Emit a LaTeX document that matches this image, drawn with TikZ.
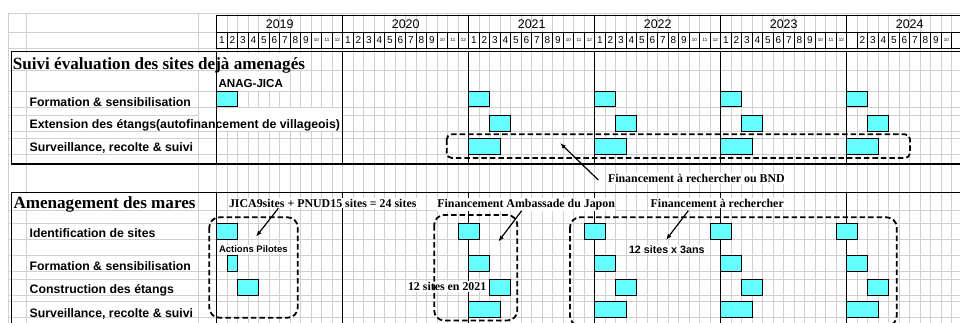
\documentclass[tikz,border=0pt]{standalone}
\usepackage{fontspec}
\setmainfont{Liberation Serif}
\newfontfamily\gothic{Liberation Sans}
\usetikzlibrary{arrows.meta}
\definecolor{barcyan}{RGB}{102,255,255}
\definecolor{gridgray}{RGB}{208,208,208}
\newcommand\gbar[4]{%
  \pgfmathsetmacro\gbarxa{216.7+126*#1+10.5*(#2-1)}%
  \pgfmathsetmacro\gbarxb{\gbarxa+10.5*#3}%
  \draw[barsty] (\gbarxa,#4) rectangle (\gbarxb,#4+15.7);}
\begin{document}
\begin{tikzpicture}[x=1pt,y=-1pt,
  gridline/.style={draw=gridgray, line width=0.9pt},
  frameline/.style={draw=black, line width=1.1pt},
  barsty/.style={draw=black, fill=barcyan, line width=0.8pt},
  grp/.style={draw=black, line width=1.8pt, dash pattern=on 5.5pt off 3pt, rounded corners=10pt},
  lab/.style={font=\gothic\bfseries\fontsize{12.3}{14}\selectfont, anchor=base west, inner sep=0pt},
  ttl/.style={font=\bfseries\fontsize{17.1}{20}\selectfont, anchor=base west, inner sep=0pt},
  note/.style={font=\bfseries\fontsize{11.9}{14}\selectfont, anchor=base west, fill=white, inner xsep=0.5pt, inner ysep=1pt},
  gnote/.style={font=\gothic\bfseries\fontsize{10.7}{12}\selectfont, anchor=base west, fill=white, inner xsep=0.5pt, inner ysep=1pt},
  pointer/.style={draw=black, line width=1.2pt, -{Latex[length=6pt,width=4.5pt]}},
  yearcell/.style={draw, line width=1pt, minimum width=126pt, minimum height=17pt, inner sep=0pt, font=\gothic\fontsize{12.5}{13}\selectfont},
  monthcell/.style={draw, line width=0.7pt, minimum width=10.5pt, minimum height=16pt, inner sep=0pt, font=\gothic\fontsize{10}{10}\selectfont},
  smallmonth/.style={font=\gothic\fontsize{4.5}{5}\selectfont}
]
\useasboundingbox (0,0) rectangle (960,322);
\fill[white] (0,0) rectangle (960,322);
\begin{scope}
\clip (0,0) rectangle (960,322);
% grid
\foreach \k in {0,...,71} \draw[gridline] ({216.7+10.5*\k},13.3) -- ({216.7+10.5*\k},323);
\foreach \xx in {8.3,26.7,198.3} \draw[gridline] (\xx,13.3) -- (\xx,323);
\foreach \yy in {13.3,32.3,48.3,70,91,107,115.7,131.3,138.3,154,210.7,223.3,239.3,255.7,271.3,279.3,295,301.7,317.3}
  \draw[gridline] (8.3,\yy) -- (960,\yy);
% overflow areas
\fill[white] (12.5,52.5) rectangle (310,69.5);
\fill[white] (217.5,70.5) rectangle (290,90.5);
\fill[white] (199,107.5) rectangle (342,130.8);
\fill[white] (12.5,193.5) rectangle (197.8,210.2);
% section frames
\draw[frameline] (962,51.7) -- (11.7,51.7) -- (11.7,164) -- (962,164);
\foreach \yi in {0,...,5} \draw[frameline] ({216.7+126*\yi},51.7) -- ({216.7+126*\yi},164);
\draw[frameline] (962,192.7) -- (11.7,192.7) -- (11.7,330);
\foreach \yi in {0,...,5} \draw[frameline] ({216.7+126*\yi},192.7) -- ({216.7+126*\yi},330);
% header
\foreach \yi/\yr in {0/2019,1/2020,2/2021,3/2022,4/2023,5/2024}
  \node[yearcell] (y\yr) at ({216.7+126*\yi+63},23.8) {\yr};
\foreach \yi in {0,...,5}{
  \foreach \mo in {1,...,9}
    \node[monthcell] (m\yi-\mo) at ({216.7+126*\yi+10.5*(\mo-0.5)},40.3) {\mo};
}
\foreach \yi in {0,...,4}{
  \foreach \mo in {10,11,12}
    \node[monthcell, smallmonth] (m\yi-\mo) at ({216.7+126*\yi+10.5*(\mo-0.5)},40.3) {\mo};
}
\node[monthcell, smallmonth] (m5-10) at ({216.7+126*5+10.5*9.5},40.3) {10};
\node[monthcell] (m5-11) at ({216.7+126*5+10.5*10.5},40.3) {};
\fill[white] (847.4,32.9) rectangle (856.7,47.7);
% bars: Suivi
\foreach \yi in {0,2,3,4,5} {\gbar{\yi}{1}{2}{91}}
\foreach \yi in {2,3,4,5} {\gbar{\yi}{3}{2}{115.7}}
\foreach \yi in {2,3,4,5} {\gbar{\yi}{1}{3}{138.3}}
% bars: Amenagement
\gbar{0}{1}{2}{223.3}
\foreach \yi in {1,2,3,4} {\gbar{\yi}{12}{2}{223.3}}
\gbar{0}{2}{1}{255.7}
\foreach \yi in {2,3,4,5} {\gbar{\yi}{1}{2}{255.7}}
\foreach \yi in {0,2,3,4,5} {\gbar{\yi}{3}{2}{279.3}}
\foreach \yi in {2,3,4,5} {\gbar{\yi}{1}{3}{301.7}}
% labels
\node[ttl] (t1) at (12.7,69) {Suivi évaluation des sites dejà amenagés};
\node[lab, font=\gothic\bfseries\fontsize{11.6}{13}\selectfont] (anag) at (218.3,87.3) {ANAG-JICA};
\node[lab] (s1) at (29.5,106) {Formation \& sensibilisation};
\node[lab] (s2) at (29.5,128.3) {Extension des étangs(autofinancement de villageois)};
\node[lab] (s3) at (29.5,151.7) {Surveillance, recolte \& suivi};
\node[ttl] (t2) at (13.3,208.3) {Amenagement des mares};
\node[lab] (a1) at (29.5,237.3) {Identification de sites};
\node[lab] (a2) at (29.5,270.7) {Formation \& sensibilisation};
\node[lab] (a3) at (29.5,293.3) {Construction des étangs};
\node[lab] (a4) at (29.5,317) {Surveillance, recolte \& suivi};
% notes
\node[note] (n1) at (607.3,182.7) {Financement à rechercher ou BND};
\node[note] (n2) at (228.3,207.3) {JICA9sites + PNUD15 sites = 24 sites};
\node[note] (n3) at (436.7,207.3) {Financement Ambassade du Japon};
\node[note] (n4) at (650,207.3) {Financement à rechercher};
\node[note] (n5) at (407.3,290.7) {12 sites en 2021};
\node[gnote, font=\gothic\bfseries\fontsize{9.5}{11}\selectfont] (n6) at (218.3,252.7) {Actions Pilotes};
\node[gnote] (n7) at (628.3,253.3) {12 sites x 3ans};
% dashed groups
\draw[grp, rounded corners=5pt] (446.7,134.3) rectangle (910,158);
\draw[grp] (209.3,217.3) rectangle (297.7,317.7);
\draw[grp] (434.2,215) rectangle (517.3,320.5);
\draw[grp] (570,217.3) rectangle (896.7,326);
% pointers
\coordinate (p1s) at (598.3,180); \coordinate (p1e) at (560,143);
\coordinate (p2s) at (278.3,208.3); \coordinate (p2e) at (256,236.7);
\coordinate (p3s) at (521.7,210.7); \coordinate (p3e) at (498.3,241.7);
\coordinate (p4s) at (688.3,210.7); \coordinate (p4e) at (666,240);
\draw[pointer] (p1s) -- (p1e);
\draw[pointer] (p2s) -- (p2e);
\draw[pointer] (p3s) -- (p3e);
\draw[pointer] (p4s) -- (p4e);
\end{scope}
\end{tikzpicture}
\end{document}
